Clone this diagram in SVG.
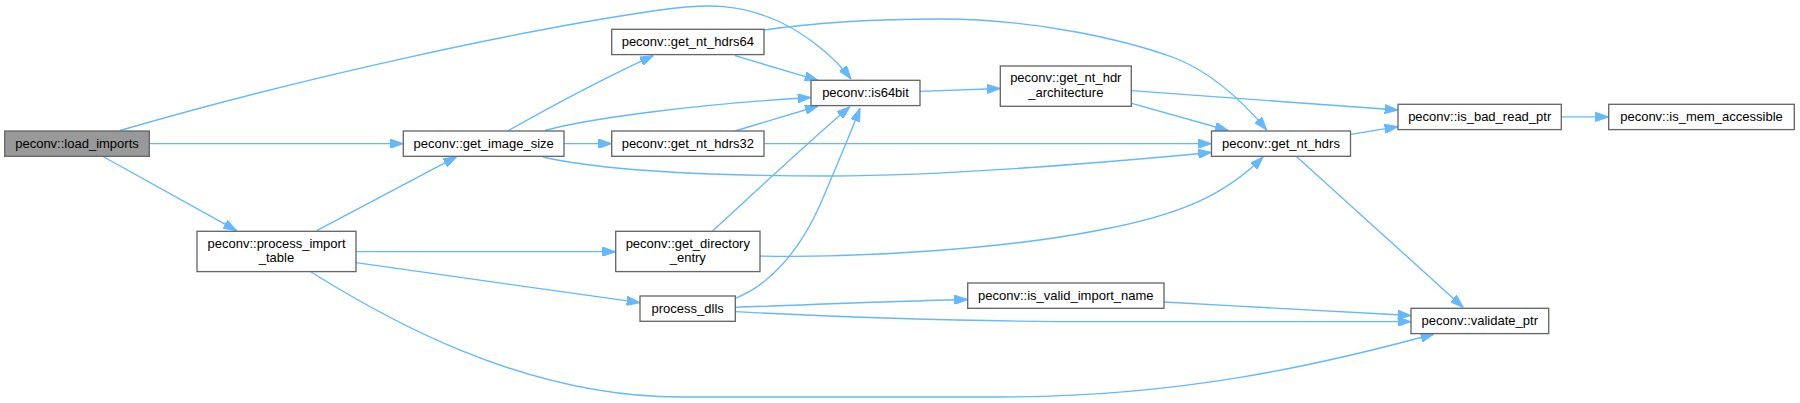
<svg xmlns="http://www.w3.org/2000/svg" width="1800" height="403" viewBox="0 0 1800 403">
<style>
.node rect{fill:#ffffff;stroke:#666666;stroke-width:1.33}
.node.main rect{fill:#999999}
.node text{font-family:"Liberation Sans",Arial,sans-serif;font-size:13px;fill:#000000;text-anchor:middle}
.edges path{fill:none;stroke:#63b8ff;stroke-width:1.33;marker-end:url(#arr)}
</style>
<defs>
<marker id="arr" viewBox="0 0 13.3 9.3" markerWidth="13.3" markerHeight="9.3" refX="13.3" refY="4.65" orient="auto" markerUnits="userSpaceOnUse">
<polygon points="0,0 13.3,4.65 0,9.3" fill="#63b8ff" stroke="#63b8ff" stroke-width="1"/>
</marker>
</defs>
<rect width="1800" height="403" fill="#ffffff"/>
<g id="edges" class="edges">
<path d="M120,130.5 C300,78 520,30 660,10 C710,3 740,4 780,22 C805,34 833,55 851,79"/>
<path d="M149.3,143.7 L403.3,143.7"/>
<path d="M103,156.5 L236.7,230.7"/>
<path d="M316.7,230.7 L456.7,156.7"/>
<path d="M356,251.7 L615.7,251.7"/>
<path d="M356,262.7 L640,302.7"/>
<path d="M311,272 C380,315 520,397 680,397 L1000,397 C1180,397 1320,365 1434,334"/>
<path d="M507.7,131 C545,110 600,80 653.3,55.7"/>
<path d="M545,130.5 C590,118 700,104 811,97.5"/>
<path d="M564,143.7 L611.7,143.7"/>
<path d="M543,157 C600,170 700,176 830,176 C950,176 1100,163 1211.5,152.5"/>
<path d="M735,55.7 L818,80.3"/>
<path d="M764,30 C820,22 880,19 940,19 C1030,19 1120,38 1175,58 C1210,72 1240,98 1266.7,130"/>
<path d="M735,131 L818.3,106"/>
<path d="M764,143.7 L1211.5,143.7"/>
<path d="M711.7,231.7 C750,197 810,140 850,106.7"/>
<path d="M760,256 C850,258 1000,250 1100,230 C1180,215 1225,195 1263,157"/>
<path d="M735.3,298.3 C770,285 800,250 820,205 C835,170 850,135 860,108.3"/>
<path d="M735.3,307.3 C800,305 900,301 967.7,299.5"/>
<path d="M735.3,311.7 C820,316 950,321.7 1100,321.7 L1411,321.7"/>
<path d="M920,91.3 L1000.3,88.5"/>
<path d="M1131.3,90.7 L1398,110"/>
<path d="M1131.7,103.3 L1228.3,130.5"/>
<path d="M1350.7,134.3 L1398,126.7"/>
<path d="M1296.7,156.7 L1463.3,307.5"/>
<path d="M1561.3,116.9 L1608.7,116.9"/>
<path d="M1164,302 C1250,307 1350,312 1411,315.5"/>
</g>
<g id="load_imports" class="node main"><rect x="4.7" y="131" width="144.6" height="25.3"/><text x="77" y="147.5">peconv::load_imports</text></g>
<g id="get_image_size" class="node"><rect x="403.3" y="131" width="160.7" height="25.3"/><text x="483.7" y="147.5">peconv::get_image_size</text></g>
<g id="process_import_table" class="node"><rect x="197" y="231.3" width="159" height="40.3"/><text x="276.5" y="247.6">peconv::process_import</text><text x="276.5" y="262.2">_table</text></g>
<g id="get_nt_hdrs64" class="node"><rect x="611.7" y="29.3" width="152.3" height="25.3"/><text x="687.8" y="45.8">peconv::get_nt_hdrs64</text></g>
<g id="get_nt_hdrs32" class="node"><rect x="611.7" y="131" width="152.3" height="25.3"/><text x="687.8" y="147.5">peconv::get_nt_hdrs32</text></g>
<g id="get_directory_entry" class="node"><rect x="615.7" y="231.3" width="144.3" height="40.3"/><text x="687.8" y="247.6">peconv::get_directory</text><text x="687.8" y="262.2">_entry</text></g>
<g id="process_dlls" class="node"><rect x="640" y="296" width="95.3" height="25.3"/><text x="687.7" y="312.5">process_dlls</text></g>
<g id="is64bit" class="node"><rect x="811" y="80.3" width="109" height="25.3"/><text x="865.5" y="96.8">peconv::is64bit</text></g>
<g id="get_nt_hdr_architecture" class="node"><rect x="1000.3" y="66" width="131" height="40.3"/><text x="1065.8" y="82.3">peconv::get_nt_hdr</text><text x="1065.8" y="96.9">_architecture</text></g>
<g id="is_valid_import_name" class="node"><rect x="967.7" y="283" width="196.3" height="25.3"/><text x="1065.8" y="299.5">peconv::is_valid_import_name</text></g>
<g id="get_nt_hdrs" class="node"><rect x="1211.5" y="131" width="139" height="25.3"/><text x="1281" y="147.5">peconv::get_nt_hdrs</text></g>
<g id="is_bad_read_ptr" class="node"><rect x="1398" y="104.3" width="163.3" height="25.3"/><text x="1479.7" y="120.8">peconv::is_bad_read_ptr</text></g>
<g id="is_mem_accessible" class="node"><rect x="1608.7" y="104.3" width="185.6" height="25.3"/><text x="1701.5" y="120.8">peconv::is_mem_accessible</text></g>
<g id="validate_ptr" class="node"><rect x="1411" y="308.3" width="137.7" height="25.3"/><text x="1479.8" y="324.8">peconv::validate_ptr</text></g>
</svg>
